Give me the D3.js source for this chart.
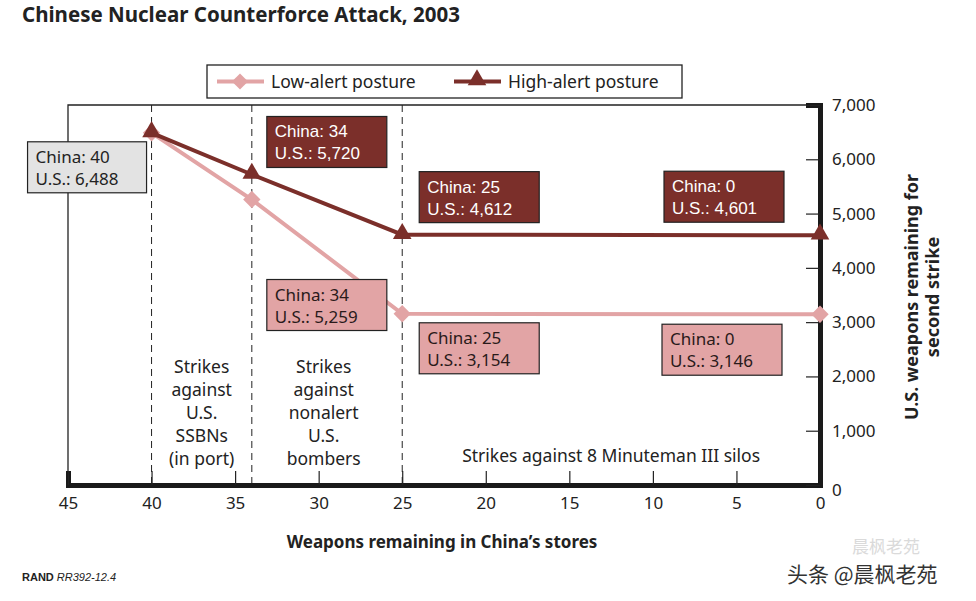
<!DOCTYPE html>
<html>
<head>
<meta charset="utf-8">
<script src="https://cdn.jsdelivr.net/npm/d3@7"></script>
<style>
  body { margin: 0; background: #fff; }
  svg { font-family: "Noto Sans", "Open Sans", sans-serif; }
</style>
</head>
<body>
<div id="chart"></div>
<script>
// data
const chinaStores = [40, 34, 25, 0];
const lowAlert = [6488, 5259, 3154, 3146];
const highAlert = [6488, 5720, 4612, 4601];
const phaseLines = [40, 34, 25];
const xTickValues = [45, 40, 35, 30, 25, 20, 15, 10, 5, 0];
const yTickValues = [0, 1000, 2000, 3000, 4000, 5000, 6000, 7000];
const phaseNotes = [
  {at: 37, lines: ["Strikes", "against", "U.S.", "SSBNs", "(in port)"]},
  {at: 29.7, lines: ["Strikes", "against", "nonalert", "U.S.", "bombers"]},
  {at: 12.5, lines: ["Strikes against 8 Minuteman III silos"]}
];

const W = 976, H = 601;
const margin = {top: 105, right: 156, bottom: 116, left: 68};

const lowColor = "#e2a4a5";
const highColor = "#7b2f2a";

const svg = d3.select("#chart").append("svg")
  .attr("width", W).attr("height", H);

const x = d3.scaleLinear().domain([45, 0]).range([margin.left, W - margin.right]);
const y = d3.scaleLinear().domain([0, 7000]).range([H - margin.bottom, margin.top]);

// title
svg.append("text")
  .attr("x", 22).attr("y", 22)
  .style("font-size", "20.5px").style("font-weight", "bold").style("fill", "#222")
  .text("Chinese Nuclear Counterforce Attack, 2003");

// frame left + top
svg.append("path")
  .attr("d", `M${x(45)},${y(0)} V${y(7000)} H${x(0)}`)
  .attr("fill", "none").attr("stroke", "#222").attr("stroke-width", 1.3);

// dashed phase lines
svg.selectAll(".phase")
  .data(phaseLines).enter()
  .append("line")
    .attr("x1", d => x(d)).attr("x2", d => x(d))
    .attr("y1", y(7000)).attr("y2", y(0))
    .attr("stroke", "#222").attr("stroke-width", 1)
    .attr("stroke-dasharray", "7,5");

// x axis
const xAxis = svg.append("g")
  .attr("transform", `translate(0,${y(0)})`)
  .call(d3.axisBottom(x).tickValues(xTickValues).tickSize(-14).tickPadding(12).tickFormat(d3.format("d")));
xAxis.select(".domain").attr("stroke-width", 5).attr("stroke", "#1a1a1a");
xAxis.selectAll(".tick line").attr("stroke", "#222").attr("stroke-width", 1.2);
xAxis.selectAll("text")
  .style("font-size", "17px").style("fill", "#222")
  .style("font-family", "'Noto Sans', sans-serif");

// y axis on the right
const yAxis = svg.append("g")
  .attr("transform", `translate(${x(0)},0)`)
  .call(d3.axisRight(y).tickValues(yTickValues).tickSize(-14).tickPadding(12).tickFormat(d3.format(",")));
yAxis.select(".domain").attr("stroke-width", 5).attr("stroke", "#1a1a1a");
yAxis.selectAll(".tick line").attr("stroke", "#222").attr("stroke-width", 1.2);
yAxis.selectAll("text")
  .style("font-size", "17px").style("fill", "#222")
  .style("font-family", "'Noto Sans', sans-serif");
yAxis.selectAll(".tick").filter(d => d === 0).select("text").attr("dy", "0.6em");

// axis titles
svg.append("text")
  .attr("x", 442).attr("y", 548)
  .attr("text-anchor", "middle")
  .style("font-size", "17px").style("font-weight", "bold").style("fill", "#222")
  .text("Weapons remaining in China\u2019s stores");

const yTitle = svg.append("text")
  .attr("transform", `translate(918,${(y(0) + y(7000)) / 2 + 2}) rotate(-90)`)
  .attr("text-anchor", "middle")
  .style("font-size", "18px").style("font-weight", "bold").style("fill", "#222");
yTitle.append("tspan").attr("x", 0).attr("dy", 0).text("U.S. weapons remaining for");
yTitle.append("tspan").attr("x", 0).attr("dy", 21).text("second strike");

// phase notes
phaseNotes.forEach(n => {
  const t = svg.append("text")
    .attr("text-anchor", "middle")
    .style("font-size", "17.5px").style("fill", "#222");
  const startY = n.lines.length > 1 ? 373 : 462;
  n.lines.forEach((l, i) => {
    t.append("tspan").attr("x", x(n.at)).attr("y", startY + i * 23).text(l);
  });
});

// series
const lowData = chinaStores.map((c, i) => ({c: c, v: lowAlert[i]}));
const highData = chinaStores.map((c, i) => ({c: c, v: highAlert[i]}));
const line = d3.line().x(d => x(d.c)).y(d => y(d.v));

svg.append("path").datum(lowData)
  .attr("d", line).attr("fill", "none")
  .attr("stroke", lowColor).attr("stroke-width", 4);
svg.append("path").datum(highData)
  .attr("d", line).attr("fill", "none")
  .attr("stroke", highColor).attr("stroke-width", 4);

const triangle = d3.symbol().type(d3.symbolTriangle).size(150);

svg.selectAll(".lowPt").data(lowData).enter()
  .append("path")
    .attr("transform", d => `translate(${x(d.c)},${y(d.v)}) rotate(45)`)
    .attr("d", d3.symbol().type(d3.symbolSquare).size(150))
    .attr("fill", lowColor);
svg.selectAll(".highPt").data(highData).enter()
  .append("path")
    .attr("transform", d => `translate(${x(d.c)},${y(d.v) - 1})`)
    .attr("d", triangle)
    .attr("fill", highColor);

// callout boxes: offset of box top-left from the data point
const callouts = [
  {series: "start", i: 0, dx: -124, dy: 9},
  {series: "high", i: 1, dx: 15, dy: -58},
  {series: "high", i: 2, dx: 17, dy: -63},
  {series: "high", i: 3, dx: -156, dy: -64},
  {series: "low", i: 1, dx: 15, dy: 80},
  {series: "low", i: 2, dx: 17, dy: 9},
  {series: "low", i: 3, dx: -158, dy: 10}
];
const boxStyle = {
  start: {fill: "#e3e3e3", text: "#222", font: "'Noto Sans', sans-serif", w: 119},
  high: {fill: highColor, text: "#fff", font: "'Liberation Sans', Arial, sans-serif", w: 120},
  low: {fill: lowColor, text: "#2a1a1a", font: "'Noto Sans', sans-serif", w: 120}
};
callouts.forEach(cb => {
  const vals = cb.series === "low" ? lowAlert : highAlert;
  const px = x(chinaStores[cb.i]), py = y(vals[cb.i]);
  const st = boxStyle[cb.series];
  const g = svg.append("g").attr("transform", `translate(${px + cb.dx},${py + cb.dy})`);
  g.append("rect")
    .attr("width", st.w).attr("height", 51)
    .attr("fill", st.fill).attr("stroke", "#222").attr("stroke-width", 1.2);
  const t = g.append("text")
    .style("font-size", "17px").style("fill", st.text).style("font-family", st.font);
  t.append("tspan").attr("x", 8).attr("y", 21).text("China: " + chinaStores[cb.i]);
  t.append("tspan").attr("x", 8).attr("y", 43).text("U.S.: " + d3.format(",")(vals[cb.i]));
});

// legend
const leg = svg.append("g").attr("transform", "translate(207,65)");
leg.append("rect").attr("width", 475).attr("height", 33)
  .attr("fill", "#fff").attr("stroke", "#222").attr("stroke-width", 1.3);
leg.append("line").attr("x1", 10).attr("x2", 57).attr("y1", 16.5).attr("y2", 16.5)
  .attr("stroke", lowColor).attr("stroke-width", 4);
leg.append("path").attr("transform", "translate(33,16.5) rotate(45)")
  .attr("d", d3.symbol().type(d3.symbolSquare).size(130)).attr("fill", lowColor);
leg.append("text").attr("x", 64).attr("y", 23)
  .style("font-size", "17.5px").style("fill", "#222").text("Low-alert posture");
leg.append("line").attr("x1", 247).attr("x2", 294).attr("y1", 16.5).attr("y2", 16.5)
  .attr("stroke", highColor).attr("stroke-width", 4);
leg.append("path").attr("transform", "translate(270,15)")
  .attr("d", triangle).attr("fill", highColor);
leg.append("text").attr("x", 301).attr("y", 23)
  .style("font-size", "17.5px").style("fill", "#222").text("High-alert posture");

// source note
const src = svg.append("text").attr("x", 22).attr("y", 581)
  .style("font-size", "11px").style("fill", "#222")
  .style("font-family", "'Liberation Sans Narrow', 'Liberation Sans', sans-serif");
src.append("tspan").style("font-weight", "bold").text("RAND ");
src.append("tspan").style("font-style", "italic").text("RR392-12.4");

// watermark
svg.append("text").attr("x", 852).attr("y", 553)
  .style("font-size", "17px").style("fill", "#dadada")
  .style("font-family", "'Noto Sans CJK SC', sans-serif")
  .text("晨枫老苑");
svg.append("text").attr("x", 787).attr("y", 582)
  .style("font-size", "21px").style("fill", "#333")
  .attr("stroke", "#fff").attr("stroke-width", 0.6).attr("paint-order", "stroke")
  .style("font-family", "'Noto Sans CJK SC', sans-serif")
  .text("头条 @晨枫老苑");
</script>
</body>
</html>
